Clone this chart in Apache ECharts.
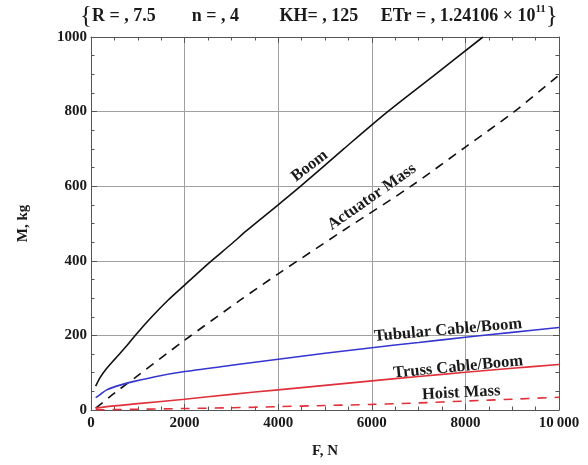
<!DOCTYPE html>
<html><head><meta charset="utf-8">
<script src="https://cdn.jsdelivr.net/npm/echarts@6/dist/echarts.min.js"></script>
<style>html,body{margin:0;padding:0;background:#fff}#c{width:588px;height:465px}</style>
</head><body><div id="c"></div>
<script>
// Data (F in N, M in kg)
const boom = [[100,64],[200,88],[300,106],[500,135],[750,170],[1000,208],[1300,250],[1650,295],[2000,335],[2500,392],[3000,445],[3337,482],[4000,550],[4480,600],[5400,700],[6340,800],[7360,900],[8375,1000]];
const actuatorMass = [[100,5],[500,45],[1000,92],[2000,187],[3194,295],[4000,365],[5400,482],[6838,600],[8000,705],[9046,800],[10000,898]];
const tubularCableBoom = [[100,33],[200,42],[336,54],[600,66],[900,76],[1400,90],[2000,103],[3000,120],[4000,136],[5000,152],[6000,167],[7000,181],[8000,195],[9000,208],[10000,221]];
const trussCableBoom = [[100,5],[500,11],[1000,17],[2000,29],[3000,42],[4000,54],[5000,66],[6000,78],[7000,90],[8000,101],[9000,112],[10000,122]];
const hoistMass = [[100,0.5],[1000,2],[2000,4],[3000,6],[4000,9],[5000,12],[6000,15],[7000,19],[8000,24],[9000,29],[10000,34]];
const xTickLabels = ['0','2000','4000','6000','8000','10\u2009000'];
const yTickLabels = ['0','200','400','600','800','1000'];
const curveLabels = [
  {name:'Boom', coord:[4673,654], rotate:38},
  {name:'Actuator Mass', coord:[6002,571], rotate:35},
  {name:'Tubular Cable/Boom', coord:[7631,214], rotate:5},
  {name:'Truss Cable/Boom', coord:[7846,115], rotate:5.5},
  {name:'Hoist Mass', coord:[7910,46], rotate:3}
];
const titleText = '{brace|{}{t|R = , 7.5        n = , 4         KH= , 125     ETr = , 1.24106 \u00d7 10}{sup|11}}';

const serif = '"Liberation Serif", "DejaVu Serif", serif';
const frameColor = '#555';
const gridColor = '#a0a0a0';
const txt = '#1a1a1a';

function frameAxis(extra){
  return Object.assign({
    min:0, axisLine:{show:true,onZero:false,lineStyle:{color:frameColor,width:1}},
    axisTick:{show:true,inside:true,length:6,lineStyle:{color:frameColor}},
    minorTick:{show:true,splitNumber:4,length:3.5,lineStyle:{color:frameColor}},
    splitLine:{show:false}, axisLabel:{show:false}
  }, extra);
}

const chart = echarts.init(document.getElementById('c'), null, {renderer:'canvas'});
const labelSeriesData = curveLabels.map(l => ({
  coord:l.coord, value:l.name,
  label:{show:true, formatter:l.name, rotate:l.rotate, position:'inside',
    fontFamily:serif, fontWeight:'bold', fontSize:16.5, color:txt}
}));
chart.setOption({
  backgroundColor:'#fff',
  animation:false,
  title:{text:titleText, left:75, top:-1,
    textStyle:{fontFamily:serif, fontWeight:'normal', fontSize:25, color:txt, verticalAlign:'middle',
      rich:{
        brace:{fontFamily:serif, fontSize:25, color:txt, verticalAlign:'middle'},
        t:{fontFamily:serif, fontWeight:'bold', fontSize:18, color:txt, verticalAlign:'middle'},
        sup:{fontFamily:serif, fontWeight:'bold', fontSize:11, verticalAlign:'top', color:txt, padding:[0,0,9,0]}
      }}},
  grid:{left:91, right:29, top:37, bottom:55},
  xAxis:[
    frameAxis({type:'value', max:10000, interval:2000, position:'bottom',
      name:'F, N', nameLocation:'middle', nameGap:34,
      nameTextStyle:{fontFamily:serif, fontWeight:'bold', fontSize:15, color:txt},
      axisLabel:{show:true, fontFamily:serif, fontWeight:'bold', fontSize:15, color:txt, margin:6,
        formatter:v => xTickLabels[Math.round(v/2000)]},
      splitLine:{show:true, lineStyle:{color:gridColor, width:1}}}),
    frameAxis({type:'value', max:10000, interval:2000, position:'top'})
  ],
  yAxis:[
    frameAxis({type:'value', max:1000, interval:200, position:'left',
      name:'M, kg', nameLocation:'middle', nameGap:60,
      nameTextStyle:{fontFamily:serif, fontWeight:'bold', fontSize:15, color:txt},
      axisLabel:{show:true, fontFamily:serif, fontWeight:'bold', fontSize:15, color:txt, margin:4,
        formatter:v => yTickLabels[Math.round(v/200)]},
      splitLine:{show:true, lineStyle:{color:gridColor, width:1}}}),
    frameAxis({type:'value', max:1000, interval:200, position:'right'})
  ],
  series:[
    {name:'Boom', type:'line', data:boom, smooth:0.3, showSymbol:false, lineStyle:{color:'#111', width:1.6}, z:3,
     markPoint:{symbol:'circle', symbolSize:0, data:labelSeriesData, silent:true}},
    {name:'Actuator Mass', type:'line', data:actuatorMass, smooth:0.3, showSymbol:false, lineStyle:{color:'#111', width:1.6, type:[9,7]}},
    {name:'Tubular Cable/Boom', type:'line', data:tubularCableBoom, smooth:0.3, showSymbol:false, lineStyle:{color:'#3535d0', width:1.6}},
    {name:'Truss Cable/Boom', type:'line', data:trussCableBoom, smooth:0.3, showSymbol:false, lineStyle:{color:'#e0303a', width:1.6}},
    {name:'Hoist Mass', type:'line', data:hoistMass, smooth:0.3, showSymbol:false, lineStyle:{color:'#e0303a', width:1.6, type:[9,8]}}
  ]
});
</script></body></html>
